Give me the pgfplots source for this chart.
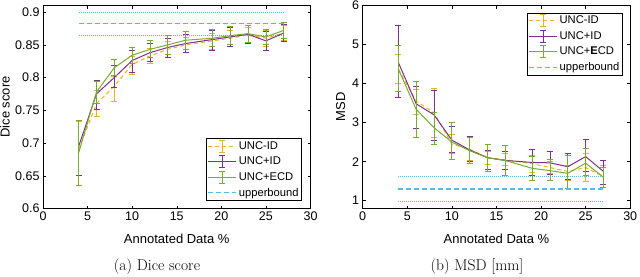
\documentclass[border=0pt]{standalone}
\usepackage{fontspec}
\usepackage{pgfplots}
\pgfplotsset{compat=1.18}
\usepackage{pgfplotstable}
\newfontfamily\arial{Liberation Sans}
\definecolor{morange}{rgb}{0.929,0.694,0.125}
\definecolor{mpurple}{rgb}{0.494,0.184,0.556}
\definecolor{mgreen}{rgb}{0.466,0.674,0.188}
\definecolor{ubA}{rgb}{0.301,0.745,0.933}
\definecolor{ubB}{rgb}{0.303,0.744,0.931}
\definecolor{ubC}{rgb}{0.305,0.743,0.929}
\definecolor{ubD}{rgb}{0.307,0.742,0.927}
\definecolor{ubE}{rgb}{0.309,0.741,0.925}
\definecolor{ubF}{rgb}{0.311,0.740,0.923}
\definecolor{ubL}{rgb}{0.313,0.739,0.921}
\definecolor{ubM}{rgb}{0.315,0.738,0.919}

% x y ep em
\pgfplotstableread{
x y ep em
4 0.690 0.043 0.054
6 0.760 0.020 0.020
8 0.787 0.015 0.024
10 0.820 0.013 0.015
12 0.833 0.012 0.011
14 0.843 0.012 0.013
16 0.850 0.012 0.012
19 0.856 0.012 0.013
21 0.860 0.012 0.013
23 0.865 0.012 0.012
25 0.860 0.012 0.012
27 0.868 0.012 0.011
}\diceA
\pgfplotstableread{
x y ep em
4 0.695 0.040 0.045
6 0.775 0.021 0.023
8 0.800 0.018 0.015
10 0.826 0.016 0.018
12 0.838 0.014 0.013
14 0.846 0.014 0.015
16 0.852 0.014 0.014
19 0.858 0.014 0.016
21 0.862 0.014 0.015
23 0.866 0.014 0.014
25 0.856 0.014 0.014
27 0.868 0.013 0.013
}\diceB
\pgfplotstableread{
x y ep em
4 0.685 0.049 0.050
6 0.778 0.016 0.018
8 0.815 0.012 0.012
10 0.834 0.012 0.012
12 0.843 0.014 0.013
14 0.850 0.014 0.014
16 0.857 0.014 0.014
19 0.860 0.013 0.013
21 0.864 0.014 0.014
23 0.867 0.013 0.013
25 0.862 0.012 0.012
27 0.872 0.012 0.012
}\diceC
\pgfplotstableread{
x y ep em
4 4.37 0.37 0.37
6 3.55 0.30 0.35
8 3.25 0.62 0.62
10 2.45 0.24 0.25
12 2.32 0.30 0.30
14 2.10 0.15 0.17
16 2.05 0.15 0.15
19 1.95 0.22 0.22
21 1.85 0.15 0.15
23 1.75 0.15 0.22
25 1.85 0.35 0.36
27 1.62 0.28 0.27
}\msdA
\pgfplotstableread{
x y ep em
4 4.54 0.94 0.89
6 3.48 0.44 0.64
8 3.20 0.62 0.66
10 2.55 0.35 0.31
12 2.30 0.35 0.30
14 2.10 0.20 0.29
16 2.03 0.23 0.22
19 1.98 0.33 0.32
21 1.97 0.28 0.30
23 1.87 0.33 0.33
25 2.13 0.43 0.38
27 1.75 0.28 0.32
}\msdB
\pgfplotstableread{
x y ep em
4 4.37 0.62 0.58
6 3.34 0.72 0.71
8 2.87 0.40 0.43
10 2.50 0.50 0.45
12 2.28 0.35 0.33
14 2.10 0.34 0.35
16 2.03 0.39 0.37
19 1.83 0.30 0.30
21 1.77 0.30 0.24
23 1.70 0.45 0.38
25 1.96 0.39 0.32
27 1.60 0.25 0.25
}\msdC

\pgfplotsset{
  base/.style={
    scale only axis, width=267.5pt, height=203pt,
    xmin=0, xmax=30, xtick={0,5,...,30},
    tick align=inside, major tick length=3pt,
    axis line style={line width=0.5pt},
    every tick/.style={line width=0.5pt},
    tick label style={font=\arial\fontsize{12.5}{14}\selectfont},
    /pgf/number format/assume math mode=true,
    xlabel={Annotated Data \%},
    every axis x label/.style={at={(axis description cs:0.5,-0.15)}, anchor=center,
      font=\arial\fontsize{13}{15}\selectfont},
    legend cell align=left,
    legend style={font=\arial\fontsize{11.2}{13}\selectfont, line width=0.6pt,
      inner sep=1pt, row sep=2.2pt},
  },
  ylab/.style={every axis y label/.style={at={(axis description cs:#1,0.5)}, rotate=90, anchor=center,
      font=\arial\fontsize{13}{15}\selectfont}},
  ser/.style={line width=1pt, mark=none,
    error bars/y dir=both, error bars/y explicit,
    error bars/error bar style={line width=0.8pt, solid},
    error bars/error mark options={rotate=90, mark size=3pt, line width=0.8pt, solid}},
  errleg/.style={legend image code/.code={
    \draw[##1] (0pt,0pt) -- (28pt,0pt);
    \draw[##1,solid,line width=0.8pt] (14pt,-6pt) -- (14pt,6pt);
    \draw[##1,solid,line width=0.8pt] (11pt,6pt) -- (17pt,6pt);
    \draw[##1,solid,line width=0.8pt] (11pt,-6pt) -- (17pt,-6pt);}},
  ubleg/.style={legend image code/.code={
    \draw[##1, color=#1] (0pt,0pt) -- (28pt,0pt);}},
}

\begin{document}
\begin{tikzpicture}[x=1pt,y=1pt]
\path[use as bounding box] (0,0) rectangle (640,276);

\begin{axis}[base, at={(43pt,67.5pt)}, anchor=south west,
  ymin=0.6, ymax=0.91, ytick={0.6,0.65,...,0.91},
  yticklabels={0.6,0.65,0.7,0.75,0.8,0.85,0.9},
  ylabel={Dice score}, ylab=-0.142,
  legend style={at={(axis description cs:0.968,0.037)}, anchor=south east},
]
\addplot[forget plot, color=ubA, line width=0.8pt, dash pattern=on 1pt off 1pt] coordinates {(4,0.9) (27,0.9)};
\addplot[forget plot, color=ubB, line width=0.8pt, dash pattern=on 1pt off 1pt] coordinates {(4,0.865) (27,0.865)};
\addplot[ser, errleg, color=morange, dash pattern=on 4pt off 3pt] table[x=x,y=y,y error plus=ep,y error minus=em] {\diceA};
\addlegendentry{UNC-ID}
\addplot[ser, errleg, color=mpurple] table[x=x,y=y,y error plus=ep,y error minus=em] {\diceB};
\addlegendentry{UNC+ID}
\addplot[ser, errleg, color=mgreen] table[x=x,y=y,y error plus=ep,y error minus=em] {\diceC};
\addlegendentry{UNC+ECD}
\addplot[ubleg=ubL, color=ubC, line width=1.2pt, dash pattern=on 5pt off 3pt] coordinates {(4,0.882) (27,0.882)};
\addlegendentry{upperbound}
\end{axis}

\begin{axis}[base, at={(362.7pt,67.5pt)}, anchor=south west,
  ymin=0.8, ymax=6, ytick={1,2,3,4,5,6},
  ylabel={MSD}, ylab=-0.082,
  legend style={at={(axis description cs:0.972,0.964)}, anchor=north east},
]
\addplot[forget plot, color=ubD, line width=0.8pt, dash pattern=on 1pt off 1pt] coordinates {(4,1.62) (27,1.62)};
\addplot[forget plot, color=ubE, line width=0.8pt, dash pattern=on 1pt off 1pt] coordinates {(4,0.99) (27,0.99)};
\addplot[ser, errleg, color=morange, dash pattern=on 4pt off 3pt] table[x=x,y=y,y error plus=ep,y error minus=em] {\msdA};
\addlegendentry{UNC-ID}
\addplot[ser, errleg, color=mpurple] table[x=x,y=y,y error plus=ep,y error minus=em] {\msdB};
\addlegendentry{UNC+ID}
\addplot[ser, errleg, color=mgreen] table[x=x,y=y,y error plus=ep,y error minus=em] {\msdC};
\addlegendentry{UNC+\textbf{E}CD}
\addplot[ubleg=ubM, color=ubF, line width=1.2pt, dash pattern=on 5pt off 3pt] coordinates {(4,1.30) (27,1.30)};
\addlegendentry{upperbound}
\end{axis}

\node[font=\fontsize{15.6}{18}\selectfont] at (157,9.5) {(a) Dice score};
\node[font=\fontsize{15.6}{18}\selectfont] at (477,9.5) {(b) MSD [mm]};
\end{tikzpicture}
\end{document}
